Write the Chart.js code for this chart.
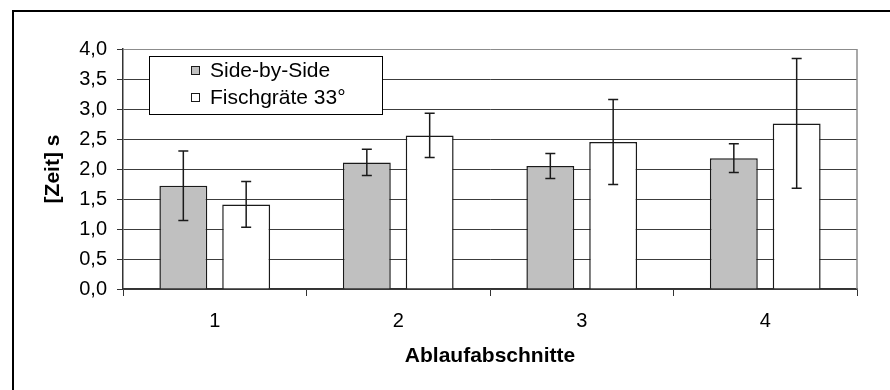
<!DOCTYPE html>
<html>
<head>
<meta charset="utf-8">
<script src="https://cdn.jsdelivr.net/npm/chart.js@4.4.0/dist/chart.umd.min.js"></script>
<style>
  html, body { margin: 0; padding: 0; background: #fff; }
  canvas { display: block; }
</style>
</head>
<body>
<canvas id="chart" width="890" height="390"></canvas>
<script>
  // data
  const categories = ["1", "2", "3", "4"];
  const seriesNames = ["Side-by-Side", "Fischgräte 33°"];
  const sideBySide = [1.72, 2.11, 2.05, 2.18];
  const sideBySideErr = [0.58, 0.22, 0.21, 0.24];
  const fischgraete = [1.41, 2.56, 2.45, 2.76];
  const fischgraeteErr = [0.38, 0.37, 0.71, 1.08];
  const yTickLabels = ["0,0", "0,5", "1,0", "1,5", "2,0", "2,5", "3,0", "3,5", "4,0"];
  const errors = [sideBySideErr, fischgraeteErr];

  const FONT = '"Liberation Sans", Arial, sans-serif';
  Chart.defaults.font.family = FONT;
  Chart.defaults.color = "#000";

  // white page + the cropped outer frame (left and top edge only)
  const framePlugin = {
    id: "frame",
    beforeDraw(chart) {
      const ctx = chart.ctx;
      ctx.save();
      ctx.fillStyle = "#fff";
      ctx.fillRect(0, 0, chart.width, chart.height);
      ctx.strokeStyle = "#000";
      ctx.lineWidth = 2;
      ctx.beginPath();
      ctx.moveTo(13, chart.height);
      ctx.lineTo(13, 11);
      ctx.lineTo(chart.width, 11);
      ctx.stroke();
      ctx.restore();
    }
  };

  const plotBorderPlugin = {
    id: "plotBorder",
    beforeDatasetsDraw(chart) {
      const { ctx, chartArea: a } = chart;
      ctx.save();
      ctx.strokeStyle = "#8c8c8c";
      ctx.lineWidth = 1.5;
      ctx.beginPath();
      ctx.moveTo(a.right, a.top);
      ctx.lineTo(a.right, a.bottom);
      ctx.stroke();
      ctx.restore();
    }
  };

  const errorBarPlugin = {
    id: "errorBars",
    afterDatasetsDraw(chart) {
      const ctx = chart.ctx;
      const y = chart.scales.y;
      ctx.save();
      ctx.strokeStyle = "#1a1a1a";
      ctx.lineWidth = 1.5;
      chart.data.datasets.forEach((ds, di) => {
        const meta = chart.getDatasetMeta(di);
        meta.data.forEach((bar, i) => {
          const v = ds.data[i];
          const e = errors[di][i];
          const yt = y.getPixelForValue(v + e);
          const yb = y.getPixelForValue(v - e);
          const cap = 5;
          ctx.beginPath();
          ctx.moveTo(bar.x, yt);
          ctx.lineTo(bar.x, yb);
          ctx.moveTo(bar.x - cap, yt);
          ctx.lineTo(bar.x + cap, yt);
          ctx.moveTo(bar.x - cap, yb);
          ctx.lineTo(bar.x + cap, yb);
          ctx.stroke();
        });
      });
      ctx.restore();
    }
  };

  const boxLegendPlugin = {
    id: "boxLegend",
    afterDraw(chart, args, opts) {
      const ctx = chart.ctx;
      ctx.save();
      ctx.fillStyle = "#fff";
      ctx.fillRect(opts.x, opts.y, opts.w, opts.h);
      ctx.strokeStyle = "#000";
      ctx.lineWidth = 1;
      ctx.strokeRect(opts.x + 0.5, opts.y + 0.5, opts.w, opts.h);
      ctx.font = "21px " + FONT;
      ctx.textBaseline = "middle";
      chart.data.datasets.forEach((ds, i) => {
        const cy = opts.y + opts.firstRow + i * opts.rowGap;
        ctx.fillStyle = ds.backgroundColor;
        ctx.fillRect(opts.boxX, cy - 4, 8, 8);
        ctx.strokeStyle = "#1a1a1a";
        ctx.strokeRect(opts.boxX + 0.5, cy - 3.5, 8, 8);
        ctx.fillStyle = "#000";
        ctx.fillText(ds.label, opts.textX, cy + 1);
      });
      ctx.restore();
    }
  };

  new Chart(document.getElementById("chart"), {
    type: "bar",
    data: {
      labels: categories,
      datasets: [
        { label: seriesNames[0], data: sideBySide, backgroundColor: "#c0c0c0", borderColor: "#1a1a1a", borderWidth: 1.5 },
        { label: seriesNames[1], data: fischgraete, backgroundColor: "#ffffff", borderColor: "#1a1a1a", borderWidth: 1.5 }
      ]
    },
    options: {
      responsive: false,
      animation: false,
      categoryPercentage: 0.685,
      barPercentage: 0.762,
      layout: { padding: { left: 0, top: 49, right: 33, bottom: 0 } },
      plugins: {
        legend: { display: false },
        tooltip: { enabled: false },
        boxLegend: { x: 149, y: 56, w: 233, h: 58, boxX: 191, textX: 210, firstRow: 14, rowGap: 27 }
      },
      scales: {
        x: {
          offset: true,
          grid: { offset: true, drawOnChartArea: false, drawTicks: true, tickLength: 7, color: "#333", lineWidth: 1 },
          border: { color: "#333", width: 1.5 },
          ticks: { font: { size: 20 }, padding: 13, color: "#000" },
          title: { display: true, text: "Ablaufabschnitte", font: { size: 21, weight: "bold" }, padding: { top: 0, bottom: 21 }, color: "#000" },
          afterFit(scale) { scale.height = 101; }
        },
        y: {
          min: 0,
          max: 4,
          ticks: {
            stepSize: 0.5,
            font: { size: 20 },
            padding: 10,
            color: "#000",
            callback: (v, i) => yTickLabels[i]
          },
          grid: {
            tickLength: 6,
            lineWidth: 1,
            color: (c) => (c.tick && c.tick.value === 4 ? "#8c8c8c" : "#3c3c3c"),
            tickColor: "#333"
          },
          border: { color: "#333", width: 1.5 },
          title: { display: true, text: "[Zeit] s", font: { size: 21, weight: "bold" }, padding: { top: 41, bottom: 0 }, color: "#000" },
          afterFit(scale) { scale.width = 123; }
        }
      }
    },
    plugins: [framePlugin, plotBorderPlugin, errorBarPlugin, boxLegendPlugin]
  });
</script>
</body>
</html>
